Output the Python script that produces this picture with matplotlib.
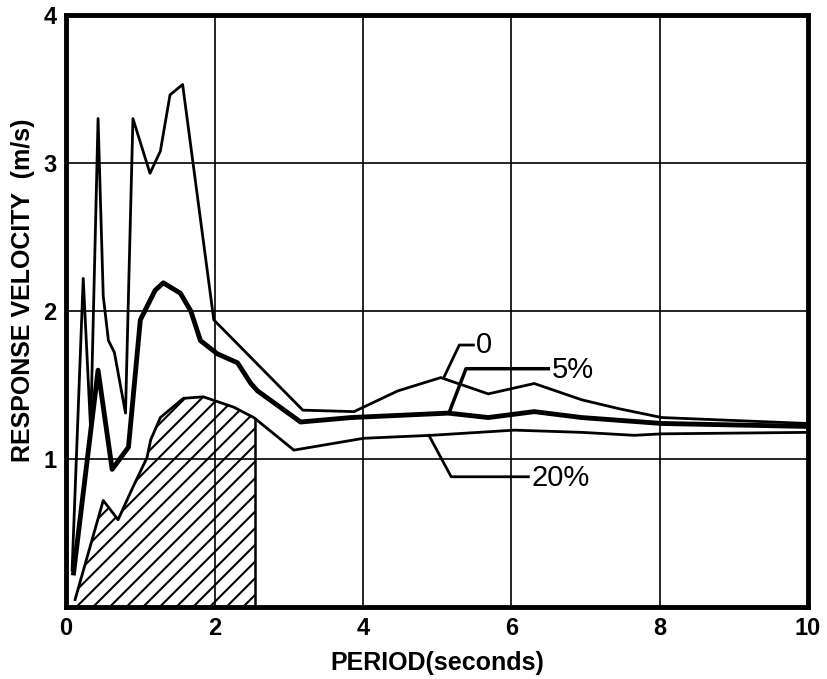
import matplotlib
matplotlib.use("Agg")
import matplotlib.pyplot as plt

plt.rcParams['font.family'] = ['Liberation Sans', 'DejaVu Sans']
plt.rcParams['hatch.linewidth'] = 1.5

# 0% damping
x_0 = [0.08, 0.23, 0.33, 0.43, 0.5, 0.57, 0.65, 0.8, 0.9, 1.13, 1.27, 1.4, 1.57,
       1.99, 3.19, 3.88, 4.47, 5.05, 5.69, 6.31, 6.95, 7.45, 8.03, 10.0]
y_0 = [0.25, 2.22, 1.2, 3.3, 2.1, 1.8, 1.72, 1.31, 3.3, 2.93, 3.08, 3.46, 3.53,
       1.94, 1.33, 1.32, 1.46, 1.55, 1.44, 1.51, 1.40, 1.34, 1.28, 1.24]

# 5% damping
x_5 = [0.1, 0.43, 0.62, 0.84, 1.0, 1.2, 1.31, 1.54, 1.68, 1.81, 2.04, 2.31, 2.49,
       2.58, 3.16, 3.84, 5.15, 5.69, 6.31, 6.95, 8.03, 10.0]
y_5 = [0.23, 1.6, 0.93, 1.08, 1.94, 2.14, 2.19, 2.12, 2.0, 1.8, 1.71, 1.65, 1.51,
       1.46, 1.25, 1.28, 1.31, 1.28, 1.32, 1.28, 1.24, 1.22]

# 20% damping
x_20 = [0.12, 0.5, 0.7, 0.9, 1.09, 1.14, 1.27, 1.58, 1.85, 2.26, 2.53, 3.07, 4.01,
        4.92, 6.04, 6.95, 7.66, 8.03, 10.0]
y_20 = [0.05, 0.72, 0.59, 0.81, 1.01, 1.13, 1.28, 1.41, 1.42, 1.35, 1.28, 1.06, 1.14,
        1.16, 1.195, 1.18, 1.16, 1.17, 1.18]

hatch_end = 2.55

fig = plt.figure(figsize=(8.27, 6.79), dpi=100)
ax = fig.add_axes([0.080, 0.106, 0.897, 0.872])

# hatched area under the 20% curve
hx = [x for x in x_20 if x <= hatch_end] + [hatch_end]
hy = [y for x, y in zip(x_20, y_20) if x <= hatch_end]
hy.append(hy[-1] + (y_20[len(hy)] - hy[-1]) * (hatch_end - hx[-2]) / (x_20[len(hy)] - hx[-2]))
ax.fill_between(hx, 0, hy, facecolor='none', edgecolor='black', hatch='//', linewidth=0)
ax.plot([hatch_end, hatch_end], [0, hy[-1]], color='black', linewidth=1.8)

ax.plot(x_0, y_0, color='black', linewidth=2.0)
ax.plot(x_5, y_5, color='black', linewidth=3.5)
ax.plot(x_20, y_20, color='black', linewidth=2.0)

# leader lines and labels
ax.plot([5.09, 5.3, 5.49], [1.55, 1.77, 1.77], color='black', linewidth=2)
ax.text(5.52, 1.77, '0', fontsize=21, va='center', ha='left')
ax.plot([5.16, 5.39, 6.5], [1.31, 1.61, 1.61], color='black', linewidth=2.5)
ax.text(6.55, 1.60, '5%', fontsize=21, va='center', ha='left')
ax.plot([4.89, 5.19, 6.23], [1.16, 0.88, 0.88], color='black', linewidth=2)
ax.text(6.27, 0.87, '20%', fontsize=21, va='center', ha='left')

ax.set_xlim(0, 10)
ax.set_ylim(0, 4)
ax.set_xticks([0, 2, 4, 6, 8, 10])
ax.set_yticks([1, 2, 3, 4])
ax.tick_params(length=0, labelsize=17, pad=7)
for lab in ax.get_xticklabels() + ax.get_yticklabels():
    lab.set_fontweight('bold')
ax.grid(True, color='black', linewidth=1.2)
for s in ax.spines.values():
    s.set_linewidth(3.5)

ax.set_xlabel('PERIOD(seconds)', fontsize=18, fontweight='bold', labelpad=8)
ax.set_ylabel('RESPONSE VELOCITY  (m/s)', fontsize=18, fontweight='bold')
ax.yaxis.set_label_coords(-0.042, 0.535)

fig.savefig('out.png', dpi=100)
